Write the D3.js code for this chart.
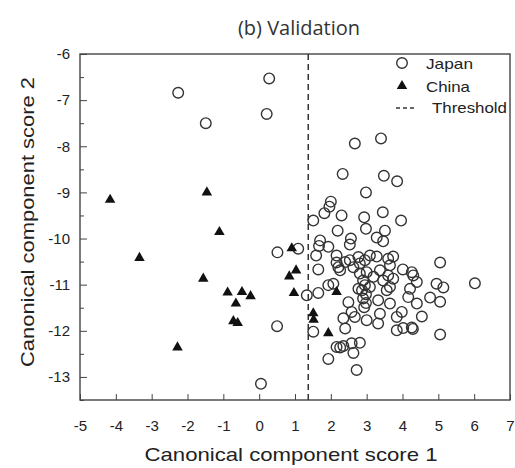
<!DOCTYPE html>
<html>
<head>
<meta charset="utf-8">
<script src="https://d3js.org/d3.v7.min.js"></script>
<style>
  body { margin:0; background:white; }
  text { font-family: "Liberation Sans", Arial, sans-serif; fill:#222; }
</style>
</head>
<body>
<svg id="chart" width="515" height="468"></svg>
<script>
// Japan samples (circles) : [score1, score2]
var japan = [
  [-2.26,-6.84],[-1.49,-7.50],[0.28,-6.53],[0.21,-7.30],[0.51,-10.30],[0.50,-11.90],[0.05,-13.15],
  [1.09,-10.22],[1.33,-11.23],
  [2.67,-7.94],[3.40,-7.83],[2.33,-8.60],[3.48,-8.64],[3.85,-8.76],[2.98,-9.00],[2.00,-9.20],
  [1.96,-9.31],[1.82,-9.45],[1.51,-9.61],[2.30,-9.50],[2.93,-9.54],[3.45,-9.43],[3.96,-9.61],
  [2.19,-9.83],[2.98,-9.79],[3.51,-9.83],[3.28,-9.98],[3.46,-10.06],[2.56,-10.00],[2.53,-10.13],
  [1.70,-10.04],[1.67,-10.16],[1.93,-10.18],
  [1.59,-10.37],[2.16,-10.37],[2.21,-10.62],[2.40,-10.51],[2.26,-10.69],[2.77,-10.40],[2.95,-10.47],
  [3.28,-10.39],[3.60,-10.44],[3.74,-10.39],[4.01,-10.67],[4.26,-10.73],[4.30,-10.80],[4.40,-10.94],
  [5.05,-10.52],[1.65,-10.67],[1.93,-11.01],[1.65,-11.18],[2.81,-10.76],[3.00,-10.73],[3.19,-10.83],
  [3.37,-10.69],[3.60,-10.80],[3.74,-10.87],[3.65,-11.05],[3.09,-11.05],
  [2.90,-10.91],[2.95,-11.01],[2.87,-11.12],[2.98,-11.21],[2.90,-11.30],[2.98,-11.40],[2.93,-11.49],
  [3.32,-11.34],[3.65,-11.41],[4.21,-11.09],[4.16,-11.27],[4.40,-11.41],[4.77,-11.28],[4.95,-10.98],
  [5.14,-11.06],[5.05,-11.37],[6.02,-10.97],
  [2.49,-11.38],[2.58,-11.59],[2.35,-11.73],[2.67,-11.70],[3.00,-11.77],[3.32,-11.84],[3.37,-11.63],
  [3.84,-11.70],[3.98,-11.59],[4.54,-11.69],[3.84,-11.99],[4.02,-11.94],[4.26,-11.93],[4.29,-11.96],
  [2.40,-11.95],[5.05,-12.08],[2.16,-12.35],[2.26,-12.36],[2.35,-12.33],[2.58,-12.27],[2.81,-12.26],
  [2.63,-12.48],[1.93,-12.61],[1.51,-12.02],[2.72,-12.85],
  [2.07,-10.98],[2.77,-11.09],[3.46,-10.91],[3.56,-11.12],[2.63,-10.62],[2.53,-10.47],[3.09,-10.37],
  [2.16,-10.52],[2.81,-10.54],[3.65,-10.58]
];
// China samples (filled triangles)
var china = [
  [-4.16,-9.16],[-1.46,-9.00],[-1.11,-9.86],[-3.34,-10.42],[-1.56,-10.87],[-0.88,-11.17],
  [-0.48,-11.16],[-0.24,-11.25],[-0.65,-11.41],[-0.72,-11.79],[-0.60,-11.83],[-2.28,-12.36],
  [0.91,-10.21],[1.03,-10.69],[0.84,-10.82],[0.97,-11.18],[2.16,-11.16],[1.51,-11.62],
  [1.52,-11.76],[1.93,-12.05]
];
var threshold = 1.37;
var xTicks = [-5,-4,-3,-2,-1,0,1,2,3,4,5,6,7];
var yTicks = [-6,-7,-8,-9,-10,-11,-12,-13];
var yMinorTicks = [-6.5,-7.5,-8.5,-9.5,-10.5,-11.5,-12.5,-13.5];

var mLeft = 80, mRight = 510, mTop = 54, mBottom = 400;
var x = d3.scaleLinear().domain([-5,7]).range([mLeft,mRight]);
var y = d3.scaleLinear().domain([-13.5,-6]).range([mBottom,mTop]);

var svg = d3.select("#chart");

// title
svg.append("text").attr("x",299).attr("y",35).attr("text-anchor","middle")
   .style("font-family","'Open Sans', 'Noto Sans', sans-serif").style("font-size","20px").style("fill","#333")
   .text("(b) Validation");

// axes (ticks pointing inside)
var xAxis = svg.append("g").attr("transform","translate(0,"+mBottom+")")
   .call(d3.axisBottom(x).tickValues(xTicks).tickSize(-6).tickPadding(20).tickFormat(function(d) { return String(d); }));
var yAxis = svg.append("g").attr("transform","translate("+mLeft+",0)")
   .call(d3.axisLeft(y).tickValues(yTicks).tickSize(-7).tickPadding(10).tickFormat(function(d) { return String(d); }));
svg.append("g").attr("transform","translate("+mLeft+",0)")
   .call(d3.axisLeft(y).tickValues(yMinorTicks).tickSize(-4).tickFormat(""))
   .select(".domain").remove();
[xAxis, yAxis].forEach(function(a) {
  a.selectAll("text").style("font-size","15px").style("fill","#222")
   .style("font-family","'Liberation Sans', Arial, sans-serif");
  a.select(".domain").remove();
});
svg.selectAll("g line").attr("stroke","#444");

// frame
svg.append("rect").attr("x",mLeft).attr("y",mTop).attr("width",mRight-mLeft).attr("height",mBottom-mTop)
   .attr("fill","none").attr("stroke","#444").attr("stroke-width",1.4);

// threshold
svg.append("line").attr("x1",x(threshold)).attr("x2",x(threshold)).attr("y1",mTop).attr("y2",mBottom)
   .attr("stroke","#333").attr("stroke-width",1.5).attr("stroke-dasharray","6,4");

// Japan
svg.append("g").selectAll("circle").data(japan).enter().append("circle")
   .attr("cx",function(d) { return x(d[0]); })
   .attr("cy",function(d) { return y(d[1]); })
   .attr("r",5.3)
   .attr("fill","none").attr("stroke","#333").attr("stroke-width",1.4);

// China
var tri = d3.symbol().type(d3.symbolTriangle).size(48);
svg.append("g").selectAll("path").data(china).enter().append("path")
   .attr("d",tri)
   .attr("transform",function(d) { return "translate("+x(d[0])+","+y(d[1])+")"; })
   .attr("fill","#111");

// legend
var lg = svg.append("g");
lg.append("circle").attr("cx",402).attr("cy",63).attr("r",5.3)
  .attr("fill","none").attr("stroke","#333").attr("stroke-width",1.4);
lg.append("text").attr("x",426).attr("y",69).style("font-size","15px")
  .attr("textLength",47).attr("lengthAdjust","spacingAndGlyphs").text("Japan");
lg.append("path").attr("d",tri).attr("transform","translate(402,86)").attr("fill","#111");
lg.append("text").attr("x",426).attr("y",92).style("font-size","15px")
  .attr("textLength",44).attr("lengthAdjust","spacingAndGlyphs").text("China");
lg.append("line").attr("x1",396).attr("x2",414).attr("y1",108).attr("y2",108)
  .attr("stroke","#333").attr("stroke-width",1.5).attr("stroke-dasharray","4,3");
lg.append("text").attr("x",432).attr("y",113).style("font-size","15px")
  .attr("textLength",75).attr("lengthAdjust","spacingAndGlyphs").text("Threshold");

// axis titles
svg.append("text").attr("x",291).attr("y",461).attr("text-anchor","middle")
   .style("font-size","19px").attr("textLength",293).attr("lengthAdjust","spacingAndGlyphs")
   .text("Canonical component score 1");
svg.append("text").attr("transform","translate(34,222) rotate(-90)").attr("text-anchor","middle")
   .style("font-size","19px").attr("textLength",290).attr("lengthAdjust","spacingAndGlyphs")
   .text("Canonical component score 2");
</script>
</body>
</html>
